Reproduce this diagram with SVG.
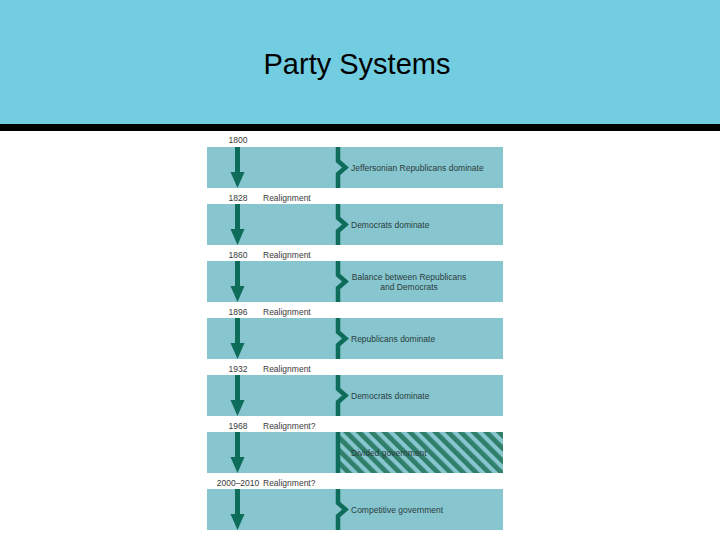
<svg xmlns="http://www.w3.org/2000/svg" width="720" height="540" viewBox="0 0 720 540">
<defs>
<style>
.band{fill:#87C5CF;}
.yr{font-family:"Liberation Sans",Arial,sans-serif;font-size:8.5px;fill:#3a3a3a;}
.lbl{font-family:"Liberation Sans",Arial,sans-serif;font-size:8.5px;fill:#2b3d3d;}
.br{fill:none;stroke:#0E6C5A;stroke-width:4.5;stroke-linejoin:miter;}
.shaft{fill:#0E6C5A;}
</style>
<pattern id="stripes" width="9" height="9" patternUnits="userSpaceOnUse" patternTransform="rotate(-45)">
<rect width="9" height="9" fill="#87C5CF"/>
<rect width="4.8" height="9" fill="#2F7F6B"/>
</pattern>
<g id="arrowShape">
<rect x="235" y="0" width="5" height="28" class="shaft"/>
<polygon points="230.5,25 244.5,25 237.5,41" class="shaft"/>
</g>
</defs>
<rect x="0" y="0" width="720" height="124" fill="#72CDE0"/>
<rect x="0" y="124" width="720" height="7" fill="#000000"/>
<text x="357" y="74" text-anchor="middle" font-family="'Liberation Sans',Arial,sans-serif" font-size="29" fill="#000">Party Systems</text>

<g id="period1">
<text class="yr" x="238" y="143" text-anchor="middle">1800</text>
<rect class="band" x="207" y="147" width="296" height="41"/>
<path class="br" d="M338,147 V161 L345.5,167.5 L338,174 V188"/>
<text class="lbl" x="351" y="170.5">Jeffersonian Republicans dominate</text>
</g>
<g id="period2">
<text class="yr" x="238" y="200.5" text-anchor="middle">1828</text>
<text class="yr" x="263" y="200.5">Realignment</text>
<rect class="band" x="207" y="204" width="296" height="41"/>
<path class="br" d="M338,204 V218 L345.5,224.5 L338,231 V245"/>
<text class="lbl" x="351" y="227.5">Democrats dominate</text>
</g>
<g id="period3">
<text class="yr" x="238" y="257.5" text-anchor="middle">1860</text>
<text class="yr" x="263" y="257.5">Realignment</text>
<rect class="band" x="207" y="261" width="296" height="41"/>
<path class="br" d="M338,261 V275 L345.5,281.5 L338,288 V302"/>
<text class="lbl" x="409" y="279.5" text-anchor="middle">Balance between Republicans</text>
<text class="lbl" x="409" y="289.5" text-anchor="middle">and Democrats</text>
</g>
<g id="period4">
<text class="yr" x="238" y="314.5" text-anchor="middle">1896</text>
<text class="yr" x="263" y="314.5">Realignment</text>
<rect class="band" x="207" y="318" width="296" height="41"/>
<path class="br" d="M338,318 V332 L345.5,338.5 L338,345 V359"/>
<text class="lbl" x="351" y="341.5">Republicans dominate</text>
</g>
<g id="period5">
<text class="yr" x="238" y="371.5" text-anchor="middle">1932</text>
<text class="yr" x="263" y="371.5">Realignment</text>
<rect class="band" x="207" y="375" width="296" height="41"/>
<path class="br" d="M338,375 V389 L345.5,395.5 L338,402 V416"/>
<text class="lbl" x="351" y="398.5">Democrats dominate</text>
</g>
<g id="period6">
<text class="yr" x="238" y="428.5" text-anchor="middle">1968</text>
<text class="yr" x="263" y="428.5">Realignment?</text>
<rect class="band" x="207" y="432" width="296" height="41"/>
<rect x="340" y="432" width="163" height="41" fill="url(#stripes)"/>
<path class="br" d="M338,432 V473"/>
<text class="lbl" x="351" y="455.5" fill="#1f3a35">Divided government</text>
</g>
<g id="period7">
<text class="yr" x="238" y="485.5" text-anchor="middle">2000–2010</text>
<text class="yr" x="263" y="485.5">Realignment?</text>
<rect class="band" x="207" y="489" width="296" height="41"/>
<path class="br" d="M338,489 V503 L345.5,509.5 L338,516 V530"/>
<text class="lbl" x="351" y="512.5">Competitive government</text>
</g>

<g id="connectors">
<use href="#arrowShape" y="147"/>
<use href="#arrowShape" y="204"/>
<use href="#arrowShape" y="261"/>
<use href="#arrowShape" y="318"/>
<use href="#arrowShape" y="375"/>
<use href="#arrowShape" y="432"/>
<use href="#arrowShape" y="489"/>
</g>
</svg>
